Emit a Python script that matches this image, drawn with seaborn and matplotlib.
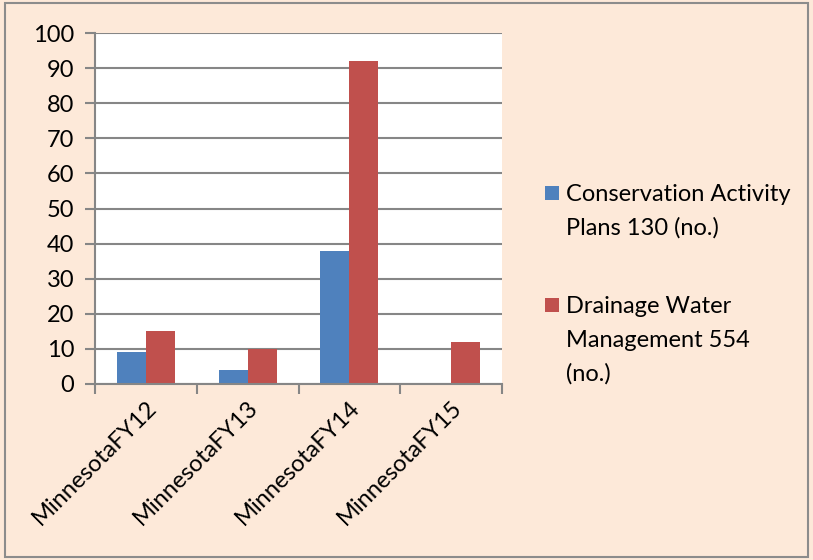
import matplotlib
matplotlib.use("Agg")
import matplotlib.pyplot as plt
import seaborn as sns
import pandas as pd
from matplotlib.patches import Rectangle

categories = ["MinnesotaFY12", "MinnesotaFY13", "MinnesotaFY14", "MinnesotaFY15"]
series_names = ["Conservation Activity\nPlans 130 (no.)", "Drainage Water\nManagement 554\n(no.)"]
series_colors = ["#4F81BD", "#C0504D"]
cap_values = [9, 4, 38, 0]
dwm_values = [15, 10, 92, 12]
y_ticks = [0, 10, 20, 30, 40, 50, 60, 70, 80, 90, 100]

df = pd.DataFrame({
    "category": categories * 2,
    "series": [series_names[0]] * 4 + [series_names[1]] * 4,
    "value": cap_values + dwm_values,
})

sns.set_theme(style="white")
plt.rcParams['font.family'] = ['Lato', 'DejaVu Sans']

bg = "#FDE9D9"
grid_c = "#868686"
W, H = 813, 560
fig = plt.figure(figsize=(W / 100, H / 100), dpi=100, facecolor=bg)
ax = fig.add_axes([95/W, 1-384/H, (502-95)/W, (384-33)/H])
ax.set_facecolor("white")

sns.barplot(data=df, x="category", y="value", hue="series", order=categories,
            hue_order=series_names, palette=series_colors, saturation=1,
            width=0.57, linewidth=0, ax=ax, legend=False)

ax.set_ylim(0, 100)
ax.set_xlim(-0.5, 3.5)
ax.set_yticks(y_ticks)
ax.set_yticklabels([str(v) for v in y_ticks], fontsize=17, color="black")
ax.yaxis.grid(True, color=grid_c, linewidth=1.5)
ax.set_axisbelow(True)
ax.set_xlabel("")
ax.set_ylabel("")

for s in ["top", "right"]:
    ax.spines[s].set_visible(False)
for s in ["left", "bottom"]:
    ax.spines[s].set_color(grid_c)
    ax.spines[s].set_linewidth(1.5)

ax.set_xticks([-0.5, 0.5, 1.5, 2.5, 3.5])
ax.set_xticklabels([])
ax.set_xticks(range(len(categories)), minor=True)
ax.set_xticklabels(categories, minor=True, rotation=45, ha="right",
                   rotation_mode="anchor", fontsize=17, color="black")
ax.tick_params(axis="x", which="major", direction="out", length=7, width=1.5,
               color=grid_c, bottom=True)
ax.tick_params(axis="x", which="minor", length=0, pad=9)
ax.tick_params(axis="y", direction="out", length=7, width=1.5, color=grid_c,
               left=True, pad=8)

# legend (Excel style: square aligned with the first text line)
leg_first_line_y = [193, 305]
line_step = 34
for name, col, yc in zip(series_names, series_colors, leg_first_line_y):
    fig.patches.append(Rectangle((545/W, 1-(yc+7)/H), 14/W, 14/H,
                                 transform=fig.transFigure, facecolor=col,
                                 edgecolor="none"))
    for i, line in enumerate(name.split("\n")):
        fig.text(566/W, 1-(yc+8+i*line_step)/H, line, fontsize=17,
                 color="black", ha="left", va="baseline")

fig.patches.append(Rectangle((5/W, 3/H), (808-5)/W, (557-3)/H,
                             transform=fig.transFigure, fill=False,
                             edgecolor="#8C8C8C", linewidth=1.5))

fig.savefig("out.png", dpi=100, facecolor=bg)
